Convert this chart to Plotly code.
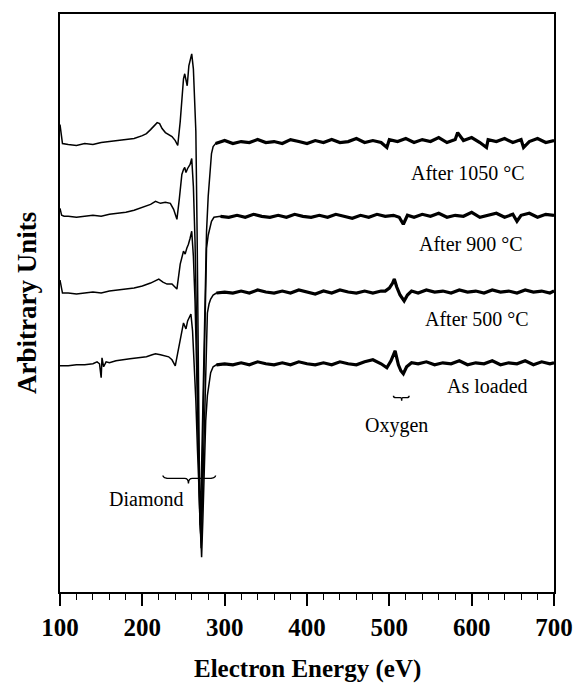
import plotly.graph_objects as go

# ---- Data (Electron Energy in eV, signal in arbitrary units) ----
e_1050 = [100, 101.5, 103, 110, 120, 130, 140, 150, 160, 170, 180, 190, 200, 205, 210, 215, 218, 221, 224, 228,
          232, 236, 240, 243, 246, 248, 250, 251.5, 253, 254.5, 256.5, 258.5, 260, 262, 264, 265, 266.5, 268,
          269.5, 270.5, 272, 274, 276, 278, 280, 282, 284, 286, 289,
          300, 310, 320, 330, 340, 350, 360, 370, 380, 390, 400, 410, 420, 430, 440, 450, 460, 470, 480, 490,
          497, 500, 510, 520, 530, 540, 550, 560, 570, 580, 583, 590, 600, 610, 618, 620, 630, 640, 650, 660,
          663, 670, 680, 690, 700]
v_1050 = [469, 457, 450, 449, 448, 450, 449, 451, 452, 453, 454, 455, 458, 460, 464, 468, 471, 470, 465, 461,
          459, 457, 453, 448, 472, 497, 515, 520, 512, 508, 528, 535, 540, 525, 492, 462, 362, 212,
          102, 67, 122, 202, 292, 362, 397, 424, 440, 447, 450,
          453, 450, 452, 451, 454, 451, 452, 450, 454, 452, 450, 453, 451, 454, 451, 452, 455, 451, 453, 451,
          446, 454, 452, 455, 451, 454, 452, 456, 451, 454, 461, 453, 456, 451, 446, 454, 452, 455, 451, 454,
          446, 452, 455, 451, 453]

e_900 = [100, 102, 105, 110, 120, 130, 140, 150, 160, 170, 180, 190, 200, 210, 216, 222, 228, 234, 238, 242,
         245, 248, 250, 251.5, 253, 255, 258, 260, 262, 264, 266, 268, 269.5, 271, 272.5, 274, 276, 278, 280,
         282, 284, 287,
         295, 305, 315, 325, 335, 345, 355, 365, 375, 385, 395, 405, 415, 425, 435, 445, 455, 465, 475, 485,
         495, 505, 512, 517, 522, 530, 540, 550, 560, 570, 580, 590, 600, 610, 620, 630, 640, 650, 655, 660,
         670, 680, 690, 700]
v_900 = [385, 378, 377, 377, 376, 377, 378, 377, 379, 380, 381, 383, 386, 389, 392, 390, 391, 390, 384, 374,
         395, 419, 424, 426, 421, 425, 429, 435, 407, 352, 262, 152, 82, 57, 102, 180, 280, 345, 358,
         367, 372, 376,
         377, 376, 378, 376, 379, 377, 376, 378, 376, 379, 377, 376, 378, 376, 379, 377, 375, 378, 376, 379,
         377, 378, 376, 369, 378, 376, 379, 377, 380, 376, 378, 377, 381, 376, 378, 380, 376, 379, 372, 378,
         380, 376, 379, 378]

e_500 = [100, 101.5, 103, 110, 120, 130, 140, 150, 160, 170, 180, 190, 200, 210, 220, 225, 230, 236, 242,
         246, 250, 252, 254, 256, 258, 260, 262, 264, 266, 268, 270, 271.5, 273, 275, 277, 279, 281, 283, 286,
         290, 300, 310, 320, 330, 340, 350, 360, 370, 380, 390, 400, 410, 420, 430, 440, 450, 460, 470, 480,
         490, 495, 500, 504, 506, 509, 513, 518, 522, 527, 535, 545, 555, 565, 575, 585, 595, 605, 615, 625,
         635, 645, 655, 665, 675, 685, 695, 700]
v_500 = [313, 305, 300, 300, 299, 300, 301, 300, 302, 303, 304, 305, 307, 310, 314, 311, 309, 309, 304,
         329, 342, 339, 345, 349, 355, 362, 337, 292, 222, 142, 72, 44, 92, 172, 242, 280, 289, 294, 298,
         300, 301, 300, 302, 300, 303, 301, 300, 302, 300, 303, 301, 299, 302, 300, 303, 301, 300, 302, 300,
         302, 302, 305, 310, 314, 306, 298, 292, 298, 302, 300, 303, 301, 302, 300, 303, 301, 302, 300, 303,
         301, 302, 300, 303, 301, 302, 300, 302]

e_loaded = [100, 110, 120, 130, 140, 145, 148, 150, 151, 153, 156, 160, 168, 175, 185, 195, 205, 212, 216,
            222, 228, 232, 236, 240, 243, 246, 248, 250, 252, 253, 255, 257, 259, 261, 263, 265, 267, 269,
            270.5, 272, 273.5, 275, 277, 279, 281, 283, 286,
            290, 300, 310, 320, 330, 340, 350, 360, 370, 380, 390, 400, 410, 420, 430, 440, 450, 460, 470, 480,
            490, 497, 502, 507, 511, 514, 517, 521, 527, 535, 545, 555, 565, 575, 585, 595, 605, 615, 625, 635,
            645, 655, 665, 675, 685, 695, 700]
v_loaded = [227, 227, 228, 228, 229, 231, 229, 215, 235, 226, 231, 230, 232, 233, 234, 235, 236, 238, 239,
            238, 237, 236, 233, 227, 240, 252, 262, 270, 266, 264, 272, 276, 279, 262, 232, 192, 142, 92,
            57, 35, 72, 122, 172, 197, 210, 220, 226,
            228, 229, 228, 230, 228, 231, 229, 228, 230, 228, 231, 229, 228, 230, 228, 231, 229, 228, 231, 233,
            229, 225, 232, 242, 228, 222, 219, 226, 230, 229, 231, 228, 230, 229, 232, 228, 230, 229, 232, 228,
            230, 229, 232, 228, 231, 229, 230]

spectra = [
    ("After 1050 °C", e_1050, v_1050),
    ("After 900 °C", e_900, v_900),
    ("After 500 °C", e_500, v_500),
    ("As loaded", e_loaded, v_loaded),
]

SERIF = "Liberation Serif"
NOISY_FROM = 288  # eV: flat, noisy tail drawn as a thicker band

fig = go.Figure()
for name, ex, vy in spectra:
    fig.add_trace(go.Scatter(x=ex, y=vy, mode="lines", name=name,
                             line=dict(color="black", width=1.5), showlegend=False,
                             hoverinfo="skip"))
    tail = [(a, b) for a, b in zip(ex, vy) if a >= NOISY_FROM]
    fig.add_trace(go.Scatter(x=[a for a, _ in tail], y=[b for _, b in tail], mode="lines",
                             line=dict(color="black", width=3.2), showlegend=False,
                             hoverinfo="skip"))

# Curve labels (data coordinates)
labels = [
    ("After 1050 °C", 596, 420),
    ("After 900 °C", 599, 349),
    ("After 500 °C", 607, 274),
    ("As loaded", 619, 207),
    ("Oxygen", 509, 167),
    ("Diamond", 205, 93),
]
for txt, lx, ly in labels:
    fig.add_annotation(x=lx, y=ly, xref="x", yref="y", text=txt, showarrow=False,
                       font=dict(family=SERIF, size=20, color="black"),
                       xanchor="center", yanchor="middle")

# Curly braces
def brace(x0, x1, xm, ytop, ymid, ytip):
    return (f"M {x0},{ytop} Q {x0},{ymid} {x0 + (xm - x0) * 0.3},{ymid} "
            f"L {xm - (xm - x0) * 0.15},{ymid} Q {xm},{ymid} {xm},{ytip} "
            f"Q {xm},{ymid} {xm + (x1 - xm) * 0.15},{ymid} "
            f"L {x1 - (x1 - xm) * 0.3},{ymid} Q {x1},{ymid} {x1},{ytop}")

fig.add_shape(type="path", xref="x", yref="y", path=brace(225, 289, 256, 117, 114, 109),
              line=dict(color="black", width=1.4))
fig.add_shape(type="path", xref="x", yref="y", path=brace(505, 524, 515, 197, 195, 192),
              line=dict(color="black", width=1.4))

# Axis titles
fig.add_annotation(xref="paper", yref="paper", x=0.5, y=0, yshift=-77, text="Electron Energy (eV)",
                   showarrow=False, xanchor="center", yanchor="middle",
                   font=dict(family=SERIF, size=25, color="black", weight="bold"))
fig.add_annotation(xref="paper", yref="paper", x=0, y=0.5, xshift=-33, text="Arbitrary Units",
                   textangle=-90, showarrow=False, xanchor="center", yanchor="middle",
                   font=dict(family=SERIF, size=27, color="black", weight="bold"))

fig.update_xaxes(range=[100, 700], tickvals=[100, 200, 300, 400, 500, 600, 700],
                 ticks="outside", ticklen=12, tickwidth=1.5, tickcolor="black",
                 minor=dict(dtick=20, ticks="outside", ticklen=6, tickwidth=1.2, tickcolor="black"),
                 showline=True, linewidth=2, linecolor="black", mirror=True,
                 showgrid=False, zeroline=False,
                 tickfont=dict(family=SERIF, size=25, color="black", weight="bold"))
fig.update_yaxes(range=[0, 580], showticklabels=False, ticks="",
                 showline=True, linewidth=1.5, linecolor="black", mirror=True,
                 showgrid=False, zeroline=False)

fig.update_layout(width=585, height=685, margin=dict(l=60, r=26, t=12, b=93),
                  paper_bgcolor="white", plot_bgcolor="white", showlegend=False,
                  hovermode=False)

fig.write_html("out.html", config={"displayModeBar": False},
               post_script="document.body.style.margin='0';document.body.style.overflow='hidden';")
